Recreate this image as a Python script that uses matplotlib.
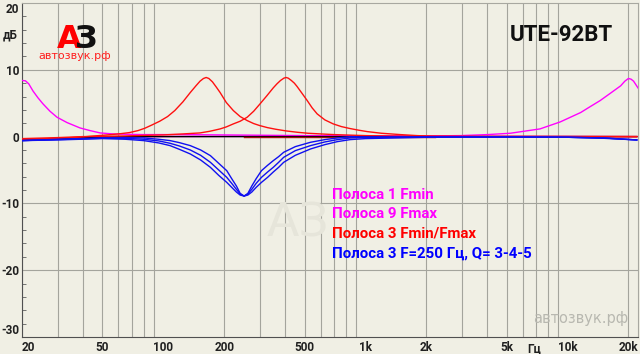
import matplotlib.pyplot as plt

# --- data ---
mag1_f = [20, 20.8, 21.6, 22.7, 24, 25.4, 27.5, 29.8, 33.4, 38.7, 43.4, 48.7, 56.4, 65, 80, 120, 200, 500,
          1000, 3000, 22000]
mag1_db = [8.4, 8.35, 7.9, 6.8, 5.8, 4.9, 3.8, 2.9, 2.1, 1.3, 0.9, 0.55, 0.4, 0.35, 0.3, 0.3, 0.25, 0.15,
           0.1, 0.05, 0.0]

mag9_f = [20, 30, 45, 100, 500, 1000, 2000, 2950, 4000, 5200, 7300, 9200, 11600, 12800, 14500, 16300, 18300,
          19200, 20000, 20600, 21200, 22400]
mag9_db = [-0.5, -0.3, -0.1, 0.0, 0.05, 0.05, 0.1, 0.15, 0.3, 0.5, 1.15, 2.2, 3.6, 4.4, 5.4, 6.5, 7.6,
           8.3, 8.7, 8.6, 8.3, 7.2]

red1_f = [20, 25, 30, 35, 40, 48, 55, 62, 68, 75, 81, 88, 96, 105, 114, 125, 136, 145, 152, 158, 163, 168,
          175, 183, 191, 205, 222, 240, 260, 280, 300, 327, 360, 405, 460, 520, 600, 700, 841, 1000, 1500, 22000]
red1_db = [-0.4, -0.35, -0.25, -0.15, -0.05, 0.15, 0.3, 0.45, 0.6, 0.9, 1.25, 1.75, 2.3, 3.0, 3.9, 5.2, 6.6,
           7.6, 8.3, 8.7, 8.85, 8.7, 8.2, 7.4, 6.6, 5.1, 3.9, 3.0, 2.4, 1.95, 1.65, 1.35, 1.1, 0.85, 0.65,
           0.5, 0.4, 0.3, 0.22, 0.15, 0.05, 0.0]

red2_f = [20, 30, 40, 50, 65, 80, 100, 125, 152, 170, 191, 205, 222, 240, 260, 280, 301, 325, 350, 365, 380,
          395, 405, 415, 430, 445, 459, 485, 515, 545, 577, 630, 693, 760, 841, 930, 1020, 1200, 1490, 1800,
          2170, 3000, 22000]
red2_db = [-0.3, -0.15, 0.0, 0.05, 0.1, 0.18, 0.25, 0.4, 0.55, 0.8, 1.15, 1.45, 1.9, 2.3, 2.9, 3.8, 4.9, 6.1,
           7.3, 7.9, 8.4, 8.75, 8.85, 8.75, 8.4, 8.0, 7.5, 6.5, 5.4, 4.3, 3.4, 2.5, 1.9, 1.5, 1.2, 0.95, 0.75,
           0.5, 0.3, 0.15, 0.05, 0.0, 0.0]

darkred_f = [250, 2200]
darkred_db = [0.0, 0.0]

black_f = [20, 30, 45, 70, 22000]
black_db = [-0.5, -0.3, -0.1, 0.0, 0.0]

blue_f = [20, 30, 50, 65, 80, 95, 108, 120, 136, 153, 171, 188, 206, 218, 230, 240, 251, 262, 274, 288,
          306, 328, 350, 372, 394, 450, 535, 630, 727, 841, 1000, 2000, 5000, 10000, 15000, 22000]
blue_q5 = [-0.6, -0.4, -0.2, -0.15, -0.2, -0.4, -0.6, -0.9, -1.35, -2.0, -2.85, -4.0, -5.1, -6.3, -7.4,
           -8.5, -8.9, -8.5, -7.4, -6.3, -5.1, -4.3, -3.6, -3.0, -2.35, -1.5, -0.85, -0.45, -0.2, 0.0,
           -0.05, -0.05, -0.05, -0.1, -0.2, -0.5]
blue_q4 = [-0.6, -0.45, -0.25, -0.25, -0.4, -0.65, -1.0, -1.4, -2.0, -2.8, -3.85, -5.0, -6.1, -7.0, -7.9,
           -8.6, -8.9, -8.6, -7.9, -7.0, -6.1, -5.3, -4.6, -3.85, -3.1, -2.1, -1.35, -0.8, -0.45, -0.2,
           -0.1, -0.05, -0.05, -0.1, -0.2, -0.5]
blue_q3 = [-0.6, -0.5, -0.3, -0.4, -0.6, -0.95, -1.35, -1.9, -2.6, -3.5, -4.6, -5.8, -6.85, -7.6, -8.3,
           -8.75, -8.9, -8.75, -8.3, -7.6, -6.85, -6.1, -5.3, -4.6, -3.85, -2.8, -1.85, -1.2, -0.75, -0.45,
           -0.3, -0.1, -0.05, -0.1, -0.25, -0.5]

xticks = [20, 50, 100, 200, 500, 1000, 2000, 5000, 10000, 20000]
xlabels = ['20', '50', '100', '200', '500', '1k', '2k', '5k', '10k', '20k']
yticks = [20, 10, 0, -10, -20, -30]

legend_txt = ['Полоса 1 Fmin', 'Полоса 9 Fmax', 'Полоса 3 Fmin/Fmax', 'Полоса 3 F=250 Гц, Q= 3-4-5']
legend_col = ['#ff00ff', '#ff00ff', '#ff0000', '#0000ff']

# --- style ---
plt.rcParams['font.family'] = ['Roboto', 'DejaVu Sans']
bg = '#f0efe4'

fig = plt.figure(figsize=(6.4, 3.54), dpi=100, facecolor=bg)
ax = fig.add_axes([22/640, 1-337/354, 616/640, 334/354], facecolor=bg)
ax.set_xscale('log')
ax.set_xlim(20, 22300)
ax.set_ylim(-30, 20)

# grid
minor = [m*d for d in (10, 100, 1000, 10000) for m in range(2, 10) if 20 <= m*d <= 22000]
for v in minor:
    ax.axvline(v, color='#a4a49c', lw=0.8, zorder=1)
for v in (10, -10, -20):
    ax.axhline(v, color='#a4a49c', lw=0.8, zorder=1)

ax.plot(mag1_f, mag1_db, color='#ff00ff', lw=1.0, zorder=3)
ax.plot(mag9_f, mag9_db, color='#ff00ff', lw=1.0, zorder=3)
ax.plot(black_f, black_db, color='black', lw=1.0, zorder=3.5)
ax.plot(red1_f, red1_db, color='#ff1010', lw=1.0, zorder=4)
ax.plot(red2_f, red2_db, color='#ff1010', lw=1.0, zorder=4)
ax.plot(darkred_f, darkred_db, color='#a01010', lw=1.0, zorder=4)
for b in (blue_q5, blue_q4, blue_q3):
    ax.plot(blue_f, b, color='#1010f0', lw=1.0, zorder=5)

# axes / ticks
ax.set_xticks(xticks)
ax.set_xticklabels(xlabels)
ax.xaxis.set_minor_locator(plt.NullLocator())
ax.set_yticks(yticks)
ax.set_yticklabels([str(v) for v in yticks])
ax.set_yticks(range(-30, 21, 2), minor=True)
ax.tick_params(axis='x', length=0, pad=3, labelsize=8.5, colors='#202020')
ax.tick_params(axis='y', which='major', length=0, pad=2, labelsize=8.5, colors='#202020')
ax.tick_params(axis='y', which='minor', direction='in', length=3, color='#606060')
for lab in ax.get_xticklabels() + ax.get_yticklabels():
    lab.set_fontweight('bold')
ax.get_yticklabels()[-1].set_verticalalignment('bottom')
ax.get_yticklabels()[0].set_verticalalignment('top')
ax.get_xticklabels()[0].set_horizontalalignment('left')
for s in ('left', 'bottom'):
    ax.spines[s].set_color('#505050')
for s in ('top', 'right'):
    ax.spines[s].set_color('#a8a8a0')

fig.text(3/640, 1-35/354, 'дБ', fontsize=8.5, fontweight='bold', color='#202020', va='center')
fig.text(527/640, 1-349/354, 'Гц', fontsize=8.5, fontweight='bold', color='#202020', va='center')

# titles / logo
fig.text(613/640, 1-35/354, 'UTE-92BT', fontsize=16, fontweight='bold',
         ha='right', va='center', color='#101010', zorder=6)
fig.text(57/640, 1-39/354, 'А', fontsize=23, fontweight='bold', color='#ff0000',
         family='DejaVu Sans', va='center', zorder=6)
fig.text(75/640, 1-39/354, 'З', fontsize=23, fontweight='bold', color='#111111',
         family='DejaVu Sans', va='center', zorder=6)
fig.text(75/640, 1-56/354, 'автозвук.рф', fontsize=8, color='#ff2020',
         family='DejaVu Sans', ha='center', va='center', zorder=6)

# watermarks
fig.text(628/640, 1-318/354, 'автозвук.рф', fontsize=10.5, color='#b8b8b0',
         family='DejaVu Sans', ha='right', va='center', zorder=2)
fig.text(298/640, 1-224/354, 'АЗ', fontsize=34, color='#e6e5da',
         family='DejaVu Sans', ha='center', va='center', zorder=2)

for i, (t, c) in enumerate(zip(legend_txt, legend_col)):
    fig.text(332/640, 1-(195+19.4*i)/354, t, color=c, fontsize=10.8, fontweight='bold',
             va='center', zorder=7)

fig.savefig('out.png', dpi=100, facecolor=bg)
